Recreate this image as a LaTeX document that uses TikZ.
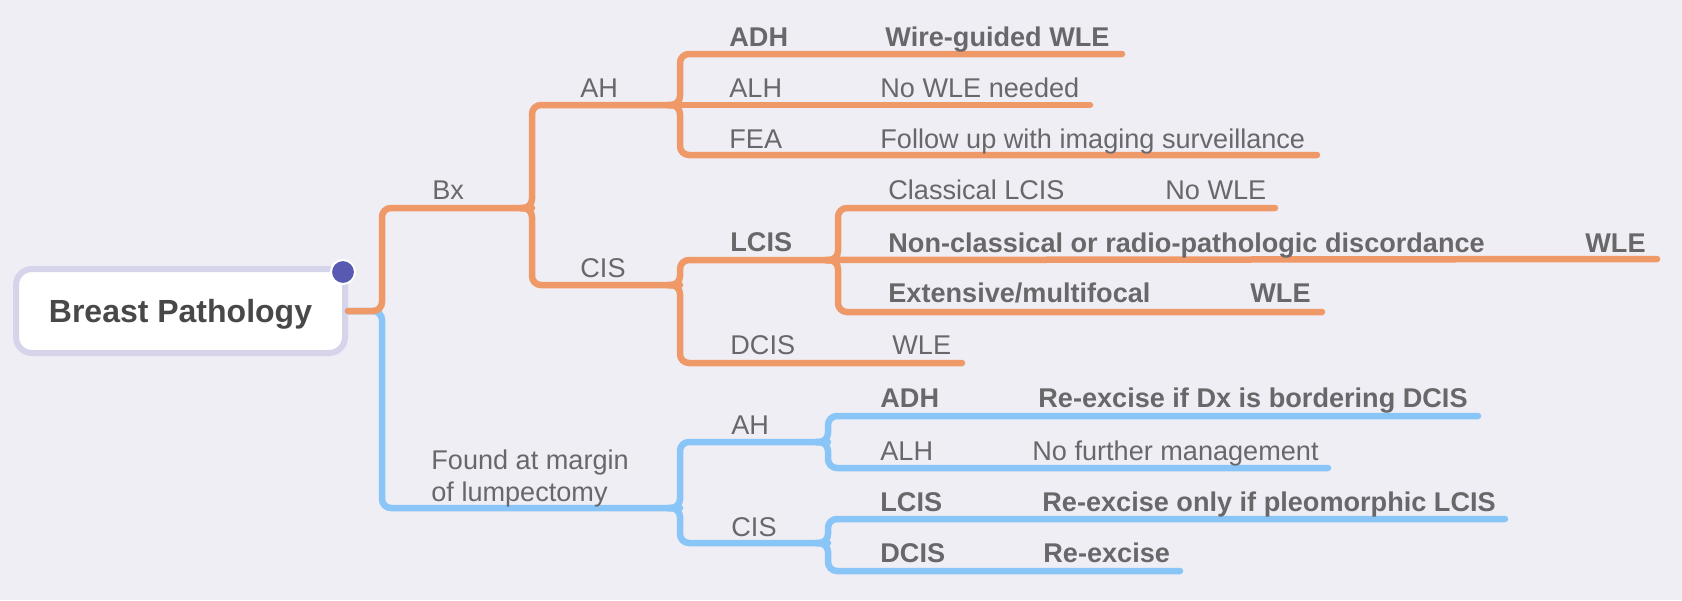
\documentclass[tikz,border=0pt]{standalone}
\usepackage{fontspec}
\setmainfont{Liberation Sans}
\usetikzlibrary{positioning,calc}

\definecolor{bgcol}{RGB}{239,238,244}
\definecolor{orangeline}{RGB}{240,153,104}
\definecolor{blueline}{RGB}{137,198,247}
\definecolor{txtgray}{RGB}{104,104,106}
\definecolor{rootgray}{RGB}{72,72,72}
\definecolor{rootborder}{RGB}{214,212,234}
\definecolor{dotblue}{RGB}{88,90,178}

\begin{document}
\begin{tikzpicture}[
  x=0.5pt, y=-0.5pt,
  branch/.style={line width=3.25pt, rounded corners=4.5pt, line cap=round},
  obranch/.style={branch, draw=orangeline},
  bbranch/.style={branch, draw=blueline},
  topic/.style={anchor=base west, inner sep=0pt, font=\fontsize{13.55}{16}\selectfont, text=txtgray},
  btopic/.style={topic, font=\fontsize{13.55}{16}\selectfont\bfseries},
  rootbox/.style={draw=rootborder, line width=3pt, fill=white, rounded corners=8pt, minimum width=164.5pt, minimum height=42pt, inner sep=0pt, text depth=0pt, font=\fontsize{16}{19}\selectfont\bfseries, text=rootgray},
  dot/.style={circle, fill=dotblue, draw=white, line width=1pt, minimum size=12pt, inner sep=0pt}
]
  \useasboundingbox[fill=bgcol] (0,0) rectangle (1682,600);

  % Root
  \node[rootbox] (root) at (180.5,311) {Breast Pathology};

  % Branch points and line ends
  \coordinate (fork) at (382,311);
  \coordinate (bx) at (532,208);
  \coordinate (found) at (680,508);
  \coordinate (ah) at (680,105);
  \coordinate (cis) at (680,285);
  \coordinate (ah_adh) at (1122,54);
  \coordinate (ah_alh) at (1090,105);
  \coordinate (ah_fea) at (1317,155);
  \coordinate (lcis) at (838,260);
  \coordinate (dcis) at (962,363);
  \coordinate (lcis_cl) at (1275,208);
  \coordinate (lcis_nc) at (1657,259);
  \coordinate (lcis_ext) at (1322,312);
  \coordinate (m_ah) at (828,442);
  \coordinate (m_cis) at (828,543);
  \coordinate (m_adh) at (1478,416);
  \coordinate (m_alh) at (1328,468);
  \coordinate (m_lcis) at (1505,519);
  \coordinate (m_dcis) at (1180,571);

  % Branches
  \draw[bbranch] (root.east) -- (fork) |- (found);
  \draw[obranch] (root.east) -- (fork) |- (bx);

  \draw[obranch] ($(bx)+(-12,0)$) -- (bx) |- (ah);
  \draw[obranch] ($(bx)+(-12,0)$) -- (bx) |- (cis);
  \draw[obranch] ($(ah)+(-12,0)$) -- (ah) |- (ah_adh);
  \draw[obranch] ($(ah)+(-12,0)$) -- (ah) -- (ah_alh);
  \draw[obranch] ($(ah)+(-12,0)$) -- (ah) |- (ah_fea);
  \draw[obranch] ($(cis)+(-12,0)$) -- (cis) |- (lcis);
  \draw[obranch] ($(cis)+(-12,0)$) -- (cis) |- (dcis);
  \draw[obranch] ($(lcis)+(-12,0)$) -- (lcis) |- (lcis_cl);
  \draw[obranch] ($(lcis)+(-12,0)$) -- (lcis) -- (lcis_nc);
  \draw[obranch] ($(lcis)+(-12,0)$) -- (lcis) |- (lcis_ext);

  \draw[bbranch] ($(found)+(-12,0)$) -- (found) |- (m_ah);
  \draw[bbranch] ($(found)+(-12,0)$) -- (found) |- (m_cis);
  \draw[bbranch] ($(m_ah)+(-12,0)$) -- (m_ah) |- (m_adh);
  \draw[bbranch] ($(m_ah)+(-12,0)$) -- (m_ah) |- (m_alh);
  \draw[bbranch] ($(m_cis)+(-12,0)$) -- (m_cis) |- (m_lcis);
  \draw[bbranch] ($(m_cis)+(-12,0)$) -- (m_cis) |- (m_dcis);

  \node[dot] (rootdot) at (343,272) {};

  % Topics: Bx
  \node[topic] (t_bx) at (432,199) {Bx};
  \node[topic] (t_ah) at (580,97) {AH};
  \node[topic] (t_cis) at (580,277) {CIS};
  \node[btopic] (t_adh) at (729,46) {ADH};
  \node[btopic] (t_adh_r) at (885,46) {Wire-guided WLE};
  \node[topic] (t_alh) at (729,97) {ALH};
  \node[topic] (t_alh_r) at (880,97) {No WLE needed};
  \node[topic] (t_fea) at (729,148) {FEA};
  \node[topic] (t_fea_r) at (880,148) {Follow up with imaging surveillance};
  \node[btopic] (t_lcis) at (730,251) {LCIS};
  \node[topic] (t_cl) at (888,199) {Classical LCIS};
  \node[topic] (t_cl_r) at (1165,199) {No WLE};
  \node[btopic] (t_nc) at (888,252) {Non-classical or radio-pathologic discordance};
  \node[btopic] (t_nc_r) at (1585,252) {WLE};
  \node[btopic] (t_ext) at (888,302) {Extensive/multifocal};
  \node[btopic] (t_ext_r) at (1250,302) {WLE};
  \node[topic] (t_dcis) at (730,354) {DCIS};
  \node[topic] (t_dcis_r) at (892,354) {WLE};

  % Topics: found at margin
  \node[topic, anchor=west, align=left] (t_found) at (431,478) {Found at margin\\of lumpectomy};
  \node[topic] (t_m_ah) at (731,434) {AH};
  \node[topic] (t_m_cis) at (731,536) {CIS};
  \node[btopic] (t_m_adh) at (880,407) {ADH};
  \node[btopic] (t_m_adh_r) at (1038,407) {Re-excise if Dx is bordering DCIS};
  \node[topic] (t_m_alh) at (880,460) {ALH};
  \node[topic] (t_m_alh_r) at (1032,460) {No further management};
  \node[btopic] (t_m_lcis) at (880,511) {LCIS};
  \node[btopic] (t_m_lcis_r) at (1042,511) {Re-excise only if pleomorphic LCIS};
  \node[btopic] (t_m_dcis) at (880,562) {DCIS};
  \node[btopic] (t_m_dcis_r) at (1043,562) {Re-excise};
\end{tikzpicture}
\end{document}
